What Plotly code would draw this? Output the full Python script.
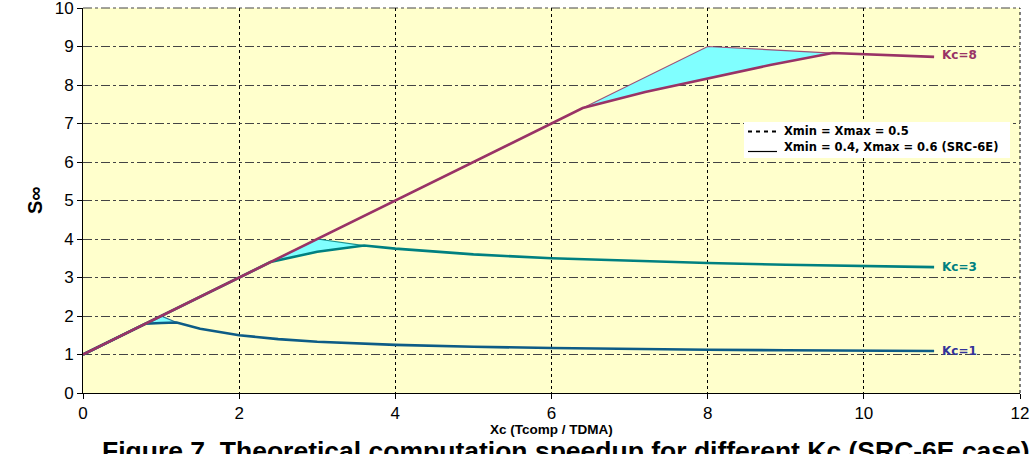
import plotly.graph_objects as go

# ---- data ----
kc_labels = ["Kc=1", "Kc=3", "Kc=8"]

kc1_x = [0, 0.8, 1.0, 1.2, 1.5, 2, 2.5, 3, 4, 5, 6, 7, 8, 9, 10, 10.9]
kc1_y = [1, 1.8, 1.82, 1.83, 1.67, 1.5, 1.4, 1.33, 1.25, 1.2, 1.17, 1.14, 1.125, 1.11, 1.1, 1.09]
kc1_ideal_x = [0, 0.8, 1.0, 1.2]
kc1_ideal_y = [1, 1.8, 2.0, 1.83]

kc3_x = [0, 2.4, 3.0, 3.6, 4, 5, 6, 7, 8, 9, 10, 10.9]
kc3_y = [1, 3.4, 3.67, 3.83, 3.75, 3.6, 3.5, 3.43, 3.375, 3.33, 3.3, 3.27]
kc3_ideal_x = [0, 2.4, 3.0, 3.6]
kc3_ideal_y = [1, 3.4, 4.0, 3.83]

kc8_x = [0, 6.4, 7.2, 8.0, 8.8, 9.6, 10, 10.9]
kc8_y = [1, 7.4, 7.82, 8.18, 8.52, 8.83, 8.8, 8.73]
kc8_ideal_x = [0, 6.4, 8.0, 9.6]
kc8_ideal_y = [1, 7.4, 9.0, 8.83]

label_y = [1.1, 3.27, 8.78]
label_x = 10.97

x_ticks = [0, 2, 4, 6, 8, 10, 12]
y_ticks = [0, 1, 2, 3, 4, 5, 6, 7, 8, 9, 10]

line_colors = ["#0d5c86", "#008080", "#993366"]
label_colors = ["#333399", "#008080", "#993366"]
fill_color = "#80FFFF"
FONT = "Liberation Sans, Arial, sans-serif"
WIDE = "DejaVu Sans, Verdana, sans-serif"

series = [
    (kc1_x, kc1_y, kc1_ideal_x, kc1_ideal_y),
    (kc3_x, kc3_y, kc3_ideal_x, kc3_ideal_y),
    (kc8_x, kc8_y, kc8_ideal_x, kc8_ideal_y),
]

fig = go.Figure()

for i, (sx, sy, ix, iy) in enumerate(series):
    x0 = ix[1]
    x1 = ix[-1]
    lower = [(a, b) for a, b in zip(sx, sy) if x0 <= a <= x1]
    poly_x = ix[1:] + [p[0] for p in reversed(lower)]
    poly_y = iy[1:] + [p[1] for p in reversed(lower)]
    fig.add_trace(go.Scatter(x=poly_x, y=poly_y, mode="lines", fill="toself",
                             fillcolor=fill_color, line=dict(width=0),
                             hoverinfo="skip", showlegend=False))

for i, (sx, sy, ix, iy) in enumerate(series):
    fig.add_trace(go.Scatter(x=ix, y=iy, mode="lines",
                             line=dict(color=line_colors[i], width=1.2),
                             opacity=0.85, showlegend=False))
    fig.add_trace(go.Scatter(x=sx, y=sy, mode="lines",
                             line=dict(color=line_colors[i], width=2.6),
                             showlegend=False))
    fig.add_annotation(x=label_x, y=label_y[i], xref="x", yref="y",
                       text="<b>" + kc_labels[i] + "</b>", showarrow=False,
                       xanchor="left", yanchor="middle",
                       font=dict(family=WIDE, size=12, color=label_colors[i]))

L, R, T, B = 83, 14, 8, 61
W, H = 1034, 454
PW, PH = W - L - R, H - T - B


def px(x):
    return (x - L) / PW


def py(y):
    return (H - B - y) / PH


# top and right grid lines at the range ends
fig.add_shape(type="line", xref="paper", yref="paper", x0=0, x1=1, y0=1, y1=1,
              line=dict(color="#444444", width=1, dash="dashdot"), layer="below")
fig.add_shape(type="line", xref="paper", yref="paper", x0=1, x1=1, y0=0, y1=1,
              line=dict(color="black", width=1, dash="dot"), layer="below")

# legend box
fig.add_shape(type="rect", xref="paper", yref="paper",
              x0=px(744), x1=px(1010), y0=py(158), y1=py(122),
              fillcolor="white", line=dict(width=0), layer="above")
fig.add_shape(type="line", xref="paper", yref="paper",
              x0=px(748), x1=px(777), y0=py(131.5), y1=py(131.5),
              line=dict(color="black", width=2, dash="4px,4px"), layer="above")
fig.add_shape(type="line", xref="paper", yref="paper",
              x0=px(748), x1=px(777), y0=py(151.5), y1=py(151.5),
              line=dict(color="black", width=1.2), layer="above")
fig.add_annotation(x=px(782), y=py(131), xref="paper", yref="paper",
                   text="<b>Xmin = Xmax = 0.5</b>", showarrow=False,
                   xanchor="left", yanchor="middle",
                   font=dict(family=WIDE, size=11.5, color="black"))
fig.add_annotation(x=px(782), y=py(147), xref="paper", yref="paper",
                   text="<b>Xmin = 0.4, Xmax = 0.6 (SRC-6E)</b>", showarrow=False,
                   xanchor="left", yanchor="middle",
                   font=dict(family=WIDE, size=11.5, color="black"))

# axis titles
fig.add_annotation(x=0.5, y=py(430), xref="paper", yref="paper",
                   text="<b>Xc (Tcomp / TDMA)</b>", showarrow=False,
                   xanchor="center", yanchor="middle",
                   font=dict(family=FONT, size=13.5, color="black"))
fig.add_annotation(x=px(35), y=py(200), xref="paper", yref="paper",
                   text="<b>S∞</b>", showarrow=False, textangle=-90,
                   xanchor="center", yanchor="middle",
                   font=dict(family=FONT, size=20, color="black"))
# caption (clipped at bottom in the reference)
fig.add_annotation(x=px(566), y=py(434), xref="paper", yref="paper",
                   text="<b>Figure 7. Theoretical computation speedup for different Kc (SRC-6E case)</b>",
                   showarrow=False, xanchor="center", yanchor="top",
                   font=dict(family=FONT, size=26.5, color="black"))

fig.update_layout(
    width=W, height=H,
    margin=dict(l=L, r=R, t=T, b=B, autoexpand=False),
    paper_bgcolor="white", plot_bgcolor="#FFFFCC",
    showlegend=False,
    xaxis=dict(range=[0, 12], tickvals=x_ticks, ticks="outside", ticklen=5,
               tickcolor="black", showline=True, linecolor="black", linewidth=1,
               showgrid=True, gridcolor="black", griddash="dot", gridwidth=1,
               zeroline=False, ticklabeloverflow="allow", automargin=False,
               tickfont=dict(family=FONT, size=17, color="black")),
    yaxis=dict(range=[0, 10], tickvals=y_ticks, ticks="outside", ticklen=5,
               tickcolor="black", showline=True, linecolor="black", linewidth=1,
               showgrid=True, gridcolor="#444444", griddash="dashdot", gridwidth=1,
               zeroline=False, ticklabeloverflow="allow", automargin=False,
               tickfont=dict(family=FONT, size=17, color="black")),
)

fig.write_html("out.html")
